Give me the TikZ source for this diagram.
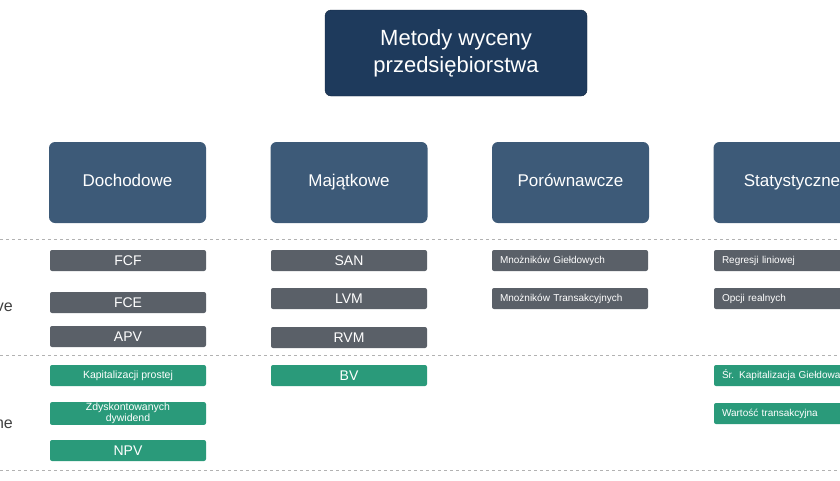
\documentclass[tikz,border=0pt]{standalone}
\usepackage{fontspec}
\setmainfont{Liberation Sans}
\usetikzlibrary{positioning}
\definecolor{navy}{HTML}{1E3A5C}
\definecolor{slate}{HTML}{3D5A78}
\definecolor{greybox}{HTML}{5A6068}
\definecolor{greenbox}{HTML}{2A9A7A}
\tikzset{
  titlebox/.style={fill=navy, draw=navy!70!black, rounded corners=6pt, text=white, font=\fontsize{22}{27}\selectfont, align=center, minimum width=262pt, minimum height=86pt},
  catbox/.style={fill=slate, rounded corners=6pt, text=white, font=\fontsize{17}{20}\selectfont, minimum width=157pt, minimum height=81pt, text height=12pt, text depth=4pt},
  itembox/.style={fill=greybox, rounded corners=2pt, text=white, font=\fontsize{14}{15}\selectfont, minimum width=156pt, minimum height=21pt, inner sep=1pt},
  smallbox/.style={itembox, font=\fontsize{10}{11}\selectfont, text width=140pt, align=left},
  greenitem/.style={itembox, fill=greenbox},
  greensmall/.style={smallbox, fill=greenbox},
  sepline/.style={gray!60, dashed, line width=0.6pt},
}
\begin{document}
\begin{tikzpicture}[x=1pt,y=-1pt]
\useasboundingbox (0,0) rectangle (840,480);
\clip (0,0) rectangle (840,480);

\node[titlebox] (title) at (456,53) {Metody wyceny\\przedsiębiorstwa};

\node[catbox] (doch) at (127.5,182.5) {Dochodowe};
\node[catbox] (maj) at (349,182.5) {Majątkowe};
\node[catbox] (por) at (570.5,182.5) {Porównawcze};
\node[catbox] (stat) at (792,182.5) {Statystyczne};

\draw[sepline] (0,239) -- (840,239);
\draw[sepline] (0,355) -- (840,355);
\draw[sepline] (0,470) -- (840,470);

\node[anchor=east, inner sep=1pt, font=\fontsize{16}{18}\selectfont, text=black!75] (lab1) at (14,307) {ve};
\node[anchor=east, inner sep=1pt, font=\fontsize{16}{18}\selectfont, text=black!75] (lab2) at (14,424) {ne};

% Dochodowe
\node[itembox] (fcf) at (128,260.5) {FCF};
\node[itembox] (fce) at (128,302.5) {FCE};
\node[itembox] (apv) at (128,336.5) {APV};
\node[greenitem, font=\fontsize{10.5}{11}\selectfont] (kap) at (128,375.5) {Kapitalizacji prostej};
\node[greenitem, font=\fontsize{10.5}{11}\selectfont, align=center] (zdys) at (128,413.5) {Zdyskontowanych\\dywidend};
\node[greenitem] (npv) at (128,450.5) {NPV};

% Majatkowe
\node[itembox] (san) at (349,260.5) {SAN};
\node[itembox] (lvm) at (349,298.5) {LVM};
\node[itembox] (rvm) at (349,337.5) {RVM};
\node[greenitem] (bv) at (349,375.5) {BV};

% Porownawcze
\node[smallbox] (mgield) at (570,260.5) {Mnożników Giełdowych};
\node[smallbox] (mtrans) at (570,298.5) {Mnożników Transakcyjnych};

% Statystyczne
\node[smallbox] (regr) at (792,260.5) {Regresji liniowej};
\node[smallbox] (opcji) at (792,298.5) {Opcji realnych};
\node[greensmall] (srkap) at (792,375.5) {Śr. Kapitalizacja Giełdowa};
\node[greensmall] (wart) at (792,413.5) {Wartość transakcyjna};
\end{tikzpicture}
\end{document}
